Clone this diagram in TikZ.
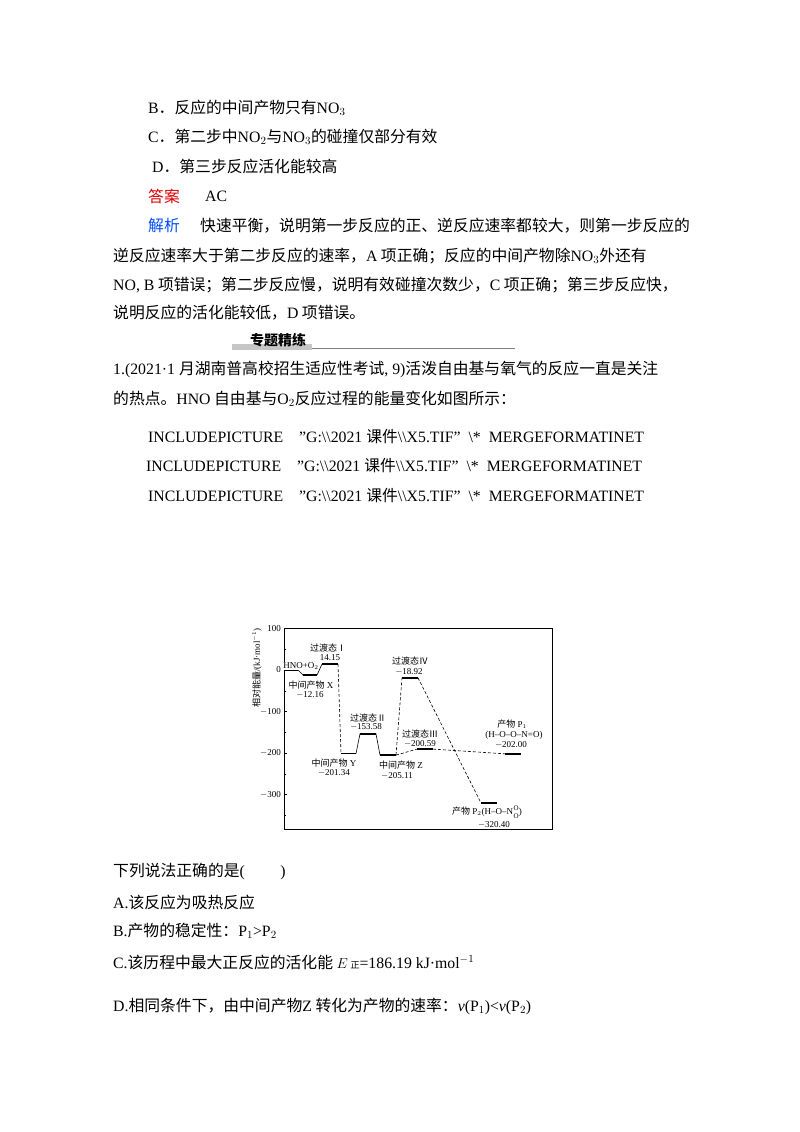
\documentclass[tikz,border=0pt]{standalone}
\usepackage{fontspec}
\setmainfont{Liberation Serif}
\newfontfamily\cjk{Noto Sans CJK SC}
\newcommand{\zh}[1]{{\cjk #1}}
\begin{document}
\begin{tikzpicture}[x=1pt,y=-1pt,
  txt/.style={anchor=west,inner sep=0pt,font=\fontsize{15.8}{18}\selectfont},
  sm/.style={inner sep=0pt,font=\fontsize{9}{10}\selectfont},
  lvl/.style={line width=1.6pt},
  sol/.style={line width=0.6pt},
  dsh/.style={dashed,line width=0.6pt,dash pattern=on 3pt off 2pt}]
\useasboundingbox (0,0) rectangle (800,1132);
\fill[white] (0,0) rectangle (800,1132);
% text
\node[txt] (tb) at (148,108) {B\zh{．反应的中间产物只有}NO$_3$};
\node[txt] (tc) at (148,137) {C\zh{．第二步中}NO$_2$\zh{与}NO$_3$\zh{的碰撞仅部分有效}};
\node[txt] (td) at (152,166) {D\zh{．第三步反应活化能较高}};
\node[txt,text=red!85!black] (ans) at (148,196) {\zh{答案}};
\node[txt] (ac) at (205,196) {AC};
\node[txt,text=blue!70!cyan] (jx) at (148,226) {\zh{解析}};
\node[txt] (l1) at (200,226) {\zh{快速平衡，说明第一步反应的正、逆反应速率都较大，则第一步反应的}};
\node[txt] (l2) at (113,256) {\zh{逆反应速率大于第二步反应的速率，}A\zh{ 项正确；反应的中间产物除}NO$_3$\zh{外还有}};
\node[txt] (l3) at (113,285) {NO, B\zh{ 项错误；第二步反应慢，说明有效碰撞次数少，}C\zh{ 项正确；第三步反应快，}};
\node[txt] (l4) at (113,313) {\zh{说明反应的活化能较低，}D\zh{ 项错误。}};
\fill[gray!45] (232,344) rectangle (312,350);
\node[inner sep=0pt,font=\fontsize{14}{15}\selectfont\cjk\bfseries] (hd) at (278,340) {专题精练};
\draw[gray,line width=0.4pt] (312,348) -- (515,348);
\node[txt] (q1) at (113,369) {1.(2021·1 \zh{月湖南普高校招生适应性考试}, 9)\zh{活泼自由基与氧气的反应一直是关注}};
\node[txt] (q2) at (113,399) {\zh{的热点。}HNO\zh{ 自由基与}O$_2$\zh{反应过程的能量变化如图所示：}};
\node[txt] (i1) at (148,437) {INCLUDEPICTURE\ \ \ \ "G:\textbackslash\textbackslash 2021 \zh{课件}\textbackslash\textbackslash X5.TIF"\ \ \textbackslash*\ \ MERGEFORMATINET};
\node[txt] (i2) at (146,466) {INCLUDEPICTURE\ \ \ \ "G:\textbackslash\textbackslash 2021 \zh{课件}\textbackslash\textbackslash X5.TIF"\ \ \textbackslash*\ \ MERGEFORMATINET};
\node[txt] (i3) at (148,496) {INCLUDEPICTURE\ \ \ \ "G:\textbackslash\textbackslash 2021 \zh{课件}\textbackslash\textbackslash X5.TIF"\ \ \textbackslash*\ \ MERGEFORMATINET};
\node[txt] (s0) at (113,872) {\zh{下列说法正确的是}(\qquad\ )};
\node[txt] (sa) at (113,902) {A.\zh{该反应为吸热反应}};
\node[txt] (sb) at (113,931) {B.\zh{产物的稳定性：}P$_1$>P$_2$};
\node[txt] (sc) at (113,962) {C.\zh{该历程中最大正反应的活化能 }$E$\,{\fontsize{9}{10}\selectfont\zh{正}}=186.19 kJ·mol$^{-1}$};
\node[txt] (sd) at (113,1006) {D.\zh{相同条件下，由中间产物}Z\zh{ 转化为产物的速率：}\textit{v}(P$_1$)<\textit{v}(P$_2$)};
% diagram
\draw[line width=0.6pt] (284,628) rectangle (552,829);
\foreach \e/\l in {100/100,0/0,-100/$-$100,-200/$-$200,-300/$-$300}{
  \draw (284,{670-0.415*\e}) -- (287,{670-0.415*\e});
  \node[sm,anchor=east] at (281,{670-0.415*\e}) {\l};}
\foreach \e in {50,-50,-150,-250,-350}{\draw (284,{670-0.415*\e}) -- (286,{670-0.415*\e});}
\node[sm,rotate=90] (yl) at (257,668) {\zh{相对能量}/(kJ·mol$^{-1}$)};
\def\Y#1{{670-0.415*(#1)}}
\coordinate (a1) at (284,\Y{0}); \coordinate (a2) at (298,\Y{0});
\coordinate (x1) at (303,\Y{-12.16}); \coordinate (x2) at (317,\Y{-12.16});
\coordinate (t11) at (322,\Y{14.15}); \coordinate (t12) at (338,\Y{14.15});
\coordinate (y1) at (341,\Y{-201.34}); \coordinate (y2) at (356,\Y{-201.34});
\coordinate (t21) at (360,\Y{-153.58}); \coordinate (t22) at (376,\Y{-153.58});
\coordinate (z1) at (380,\Y{-205.11}); \coordinate (z2) at (396,\Y{-205.11});
\coordinate (t41) at (402,\Y{-18.92}); \coordinate (t42) at (418,\Y{-18.92});
\coordinate (t31) at (417,\Y{-190.59}); \coordinate (t32) at (433,\Y{-190.59});
\coordinate (p11) at (505,\Y{-202}); \coordinate (p12) at (521,\Y{-202});
\coordinate (p21) at (481,\Y{-320.4}); \coordinate (p22) at (497,\Y{-320.4});
\foreach \p/\q in {a1/a2,x1/x2,t11/t12,y1/y2,t21/t22,z1/z2,t41/t42,t31/t32,p11/p12,p21/p22}{\draw[lvl] (\p) -- (\q);}
\draw[sol] (a2) -- (x1) (x2) -- (t11) (y2) -- (t21) (t22) -- (z1);
\draw[dsh] (t12) -- (y1) (z2) -- (t41) (t42) -- (p21) (z2) -- (t31) (t32) -- (p11);
\node[sm] at (328,648) {\zh{过渡态Ⅰ}};
\node[sm] at (330,658) {14.15};
\node[sm,fill=white,inner sep=0.3pt] at (301,666) {HNO+O$_2$};
\node[sm] at (311,685) {\zh{中间产物} X};
\node[sm] at (310,695) {$-$12.16};
\node[sm] at (410,661) {\zh{过渡态Ⅳ}};
\node[sm] at (409,672) {$-$18.92};
\node[sm] at (368,718) {\zh{过渡态Ⅱ}};
\node[sm] at (366,727) {$-$153.58};
\node[sm] at (420,734) {\zh{过渡态Ⅲ}};
\node[sm] at (420,744) {$-$200.59};
\node[sm] at (512,724) {\zh{产物} P$_1$};
\node[sm] at (514,735) {(H--O--O--N=O)};
\node[sm] at (511,745) {$-$202.00};
\node[sm] at (334,763) {\zh{中间产物} Y};
\node[sm] at (334,773) {$-$201.34};
\node[sm] at (401,765) {\zh{中间产物} Z};
\node[sm] at (397,776) {$-$205.11};
\node[sm,anchor=west] (p2l) at (452,812) {\zh{产物} P$_2$(H--O--N};
\node[inner sep=0pt,font=\fontsize{7}{7}\selectfont,anchor=west,align=left] (oo) at (p2l.east) {O\\[1pt]O};
\node[sm,anchor=west] at (oo.east) {)};
\node[sm] at (494,825) {$-$320.40};
\end{tikzpicture}
\end{document}
